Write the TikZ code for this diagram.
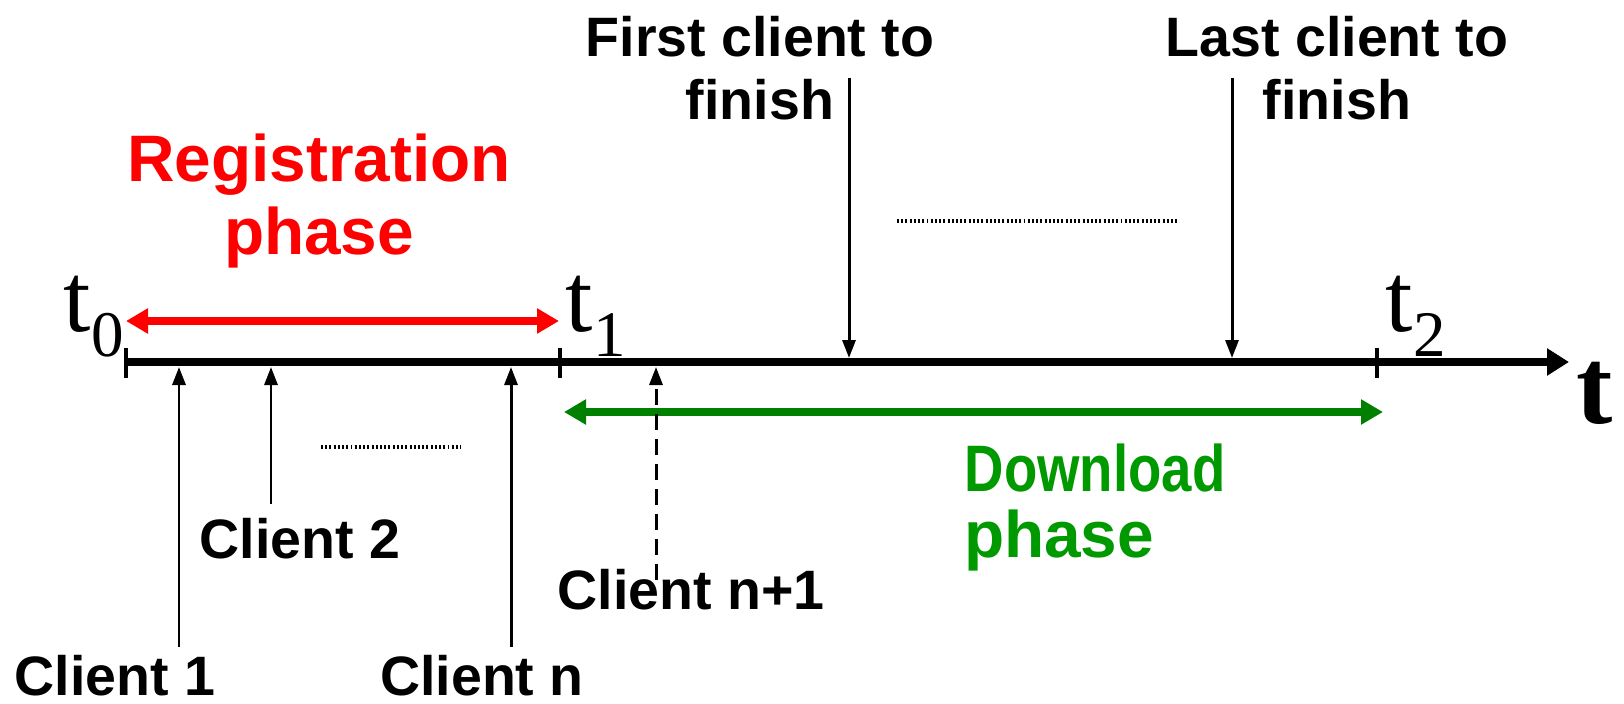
\documentclass[tikz,border=0pt]{standalone}
\usepackage{fontspec}
\setmainfont{Liberation Sans}
\newfontfamily\timesfont{Liberation Serif}
\usetikzlibrary{arrows.meta, positioning}
\definecolor{dlgreen}{RGB}{0,128,0}
\definecolor{dltext}{RGB}{0,153,0}
\newcommand{\tmark}[1]{t\raisebox{-2.5mm}{\fontsize{18.5}{20}\selectfont #1}}

\begin{document}
\begin{tikzpicture}[
            x=0.1mm, y=-0.1mm,
            lbl/.style={font=\bfseries\fontsize{15.8}{18}\selectfont, inner sep=0pt, align=center},
            phasetext/.style={font=\bfseries\fontsize{18.7}{21}\selectfont, inner sep=0pt, align=center},
            tlbl/.style={font=\timesfont\fontsize{28}{30}\selectfont, inner sep=0pt, anchor=base west},
            axis/.style={line width=2pt, -{Triangle[length=2.2mm, width=2.6mm]}},
            tick/.style={line width=1.1pt},
            span/.style={line width=2pt, {Triangle[length=2.2mm, width=2.4mm]}-{Triangle[length=2.2mm, width=2.4mm]}},
            pointer/.style={line width=0.85pt, -{Triangle[length=1.8mm, width=1.3mm]}},
            more/.style={line width=1pt, dash pattern=on 0.55pt off 0.65pt}
            ]
            \useasboundingbox (0,0) rectangle (1624,704);

            % time axis
            \coordinate (t0) at (126,362);
            \coordinate (t1) at (560,362);
            \coordinate (t2) at (1377,362);
            \coordinate (tend) at (1569,362);
            \draw[axis] (t0) -- (tend);
            \foreach \p in {t0,t1,t2}
                \draw[tick] (\p) ++(0,-14) -- ++(0,30);

            % time labels
            \node[tlbl] (lt0) at (63,331) {\tmark{0}};
            \node[tlbl] (lt1) at (565,331) {\tmark{1}};
            \node[tlbl] (lt2) at (1385,331) {\tmark{2}};
            \node[tlbl, font=\timesfont\bfseries\fontsize{31}{34}\selectfont] (lt) at (1576,423) {t};

            % registration phase
            \coordinate (regL) at (126,321);
            \coordinate (regR) at (559,321);
            \draw[span, red] (regL) -- (regR);
            \node[phasetext, text=red] (reg) at (319,201) {Registration\\phase};

            % download phase
            \coordinate (dlL) at (564,412);
            \coordinate (dlR) at (1383,412);
            \draw[span, dlgreen] (dlL) -- (dlR);
            \node[phasetext, text=dltext] (dl) at (1095,468) {\scalebox{0.83}[1]{Download}};
            \node[phasetext, text=dltext] (dlph) at (1059,541) {phase};

            % clients arriving
            \node[lbl] (c1) at (115,676) {Client 1};
            \node[lbl] (c2) at (300,539) {Client 2};
            \node[lbl] (cn) at (482,676) {Client n};
            \node[lbl] (cn1) at (691,590) {Client n+1};
            \coordinate (c1s) at (179,647);
            \coordinate (c2s) at (271,504);
            \coordinate (cns) at (511,647);
            \coordinate (cn1s) at (656,580);
            \draw[pointer] (c1s) -- (c1s |- 0,367);
            \draw[pointer] (c2s) -- (c2s |- 0,367);
            \draw[pointer] (cns) -- (cns |- 0,367);
            \draw[pointer, dash pattern=on 1.6mm off 0.9mm] (cn1s) -- (cn1s |- 0,367);
            \draw[more] (321,447) -- (461,447);

            % clients finishing
            \node[lbl] (first) at (760,68) {First client to\\finish};
            \node[lbl] (last) at (1337,68) {Last client to\\finish};
            \coordinate (firsts) at (849,78);
            \coordinate (lasts) at (1232,78);
            \draw[pointer] (firsts) -- (firsts |- 0,358);
            \draw[pointer] (lasts) -- (lasts |- 0,358);
            \draw[more] (897,221) -- (1179,221);

        \end{tikzpicture}
\end{document}
